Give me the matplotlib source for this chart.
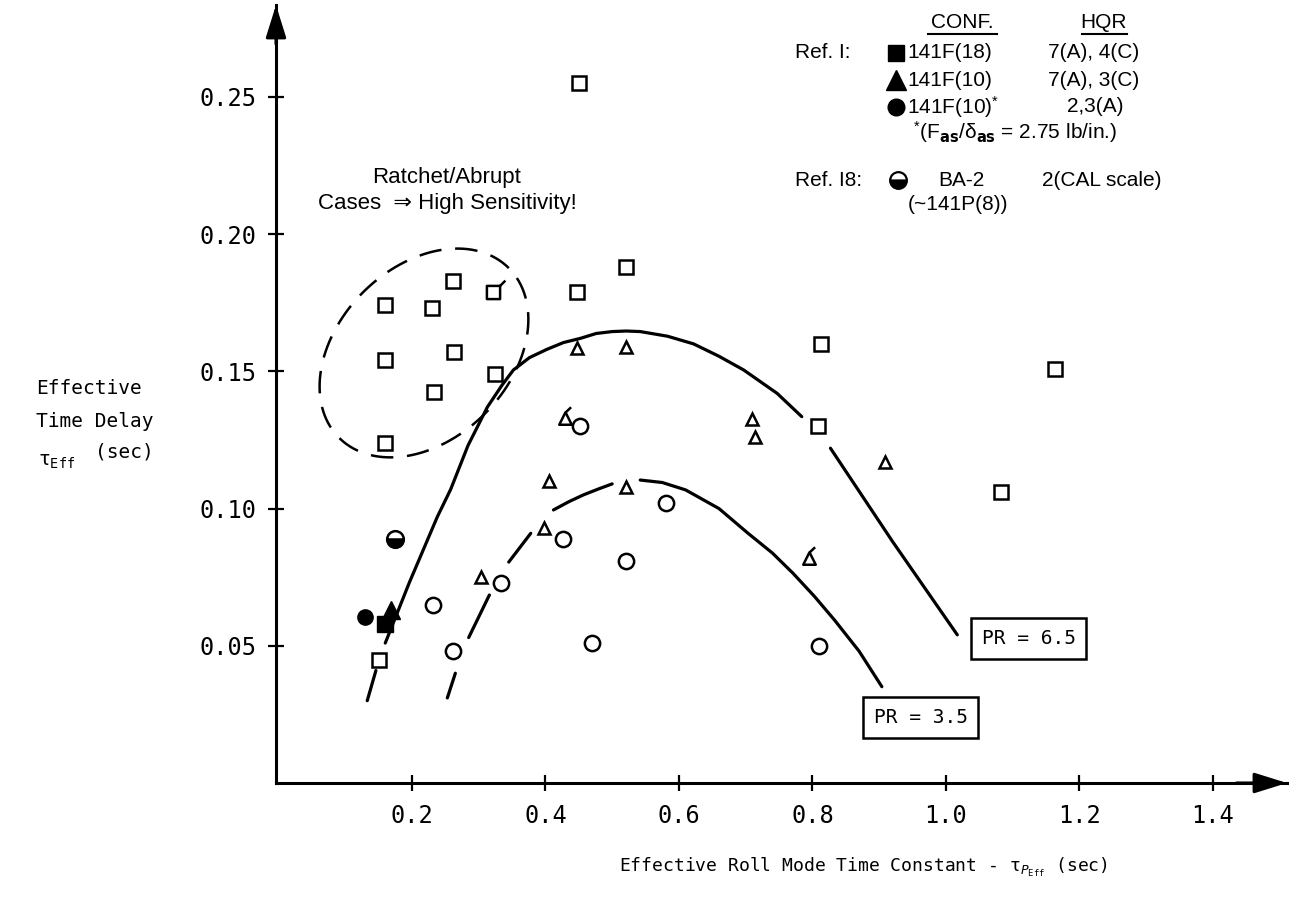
import matplotlib
matplotlib.use('Agg')
import matplotlib.pyplot as plt
import numpy as np
from matplotlib.path import Path
from matplotlib.lines import Line2D

# ---------------- data ----------------
sq_x = [0.151, 0.159, 0.160, 0.160, 0.230, 0.233, 0.262, 0.263, 0.325, 0.448, 0.450, 0.520, 0.809, 0.813, 1.082, 1.164]
sq_y = [0.045, 0.124, 0.154, 0.174, 0.173, 0.1425, 0.183, 0.157, 0.149, 0.179, 0.255, 0.188, 0.130, 0.160, 0.106, 0.151]
sq_flag_x = [0.322]
sq_flag_y = [0.179]

tri_x = [0.304, 0.398, 0.406, 0.448, 0.520, 0.520, 0.710, 0.714, 0.908]
tri_y = [0.075, 0.093, 0.110, 0.1585, 0.159, 0.108, 0.1325, 0.126, 0.117]
tri_flag_x = [0.430, 0.795]
tri_flag_y = [0.133, 0.082]

circ_x = [0.232, 0.262, 0.333, 0.427, 0.452, 0.469, 0.520, 0.581, 0.810]
circ_y = [0.065, 0.048, 0.073, 0.089, 0.130, 0.051, 0.081, 0.102, 0.050]

ref1_sq = (0.160, 0.058)
ref1_tri = (0.168, 0.063)
ref1_circ = (0.130, 0.0605)
ref18_half = (0.175, 0.089)

# faired curves (traced, NaN = break in the drawn line)
pr65_x = [0.133, 0.146, np.nan, 0.160, 0.178, 0.196, 0.217, 0.238, 0.258, 0.284, 0.313, 0.335, 0.352, 0.376, 0.402, 0.427, 0.452, 0.476, 0.500, 0.521, 0.542, 0.583, 0.622, 0.660, 0.697, 0.747, 0.784, np.nan, 0.827, 0.920, 1.017]
pr65_y = [0.030, 0.041, np.nan, 0.051, 0.062, 0.073, 0.085, 0.097, 0.107, 0.123, 0.137, 0.145, 0.1505, 0.155, 0.158, 0.1605, 0.162, 0.1638, 0.1645, 0.1647, 0.1645, 0.1628, 0.160, 0.1555, 0.1505, 0.142, 0.1335, np.nan, 0.122, 0.088, 0.054]
pr35_x = [0.253, 0.265, np.nan, 0.285, 0.316, np.nan, 0.345, 0.378, np.nan, 0.412, 0.435, 0.457, 0.480, 0.500, np.nan, 0.542, 0.575, 0.610, 0.660, 0.7035, 0.740, 0.771, 0.803, 0.833, 0.870, 0.904]
pr35_y = [0.031, 0.040, np.nan, 0.053, 0.0685, np.nan, 0.0805, 0.091, np.nan, 0.0995, 0.1025, 0.105, 0.1072, 0.109, np.nan, 0.1104, 0.1095, 0.1068, 0.100, 0.091, 0.0838, 0.0764, 0.068, 0.0594, 0.048, 0.0351]

x_ticks = [0.2, 0.4, 0.6, 0.8, 1.0, 1.2, 1.4]
x_ticklabels = ['0.2', '0.4', '0.6', '0.8', '1.0', '1.2', '1.4']
y_ticks = [0.05, 0.10, 0.15, 0.20, 0.25]
y_ticklabels = ['0.05', '0.10', '0.15', '0.20', '0.25']

# ---------------- figure ----------------
W, H = 1289, 910
plt.rcParams['mathtext.fontset'] = 'dejavusans'
plt.rcParams['mathtext.default'] = 'regular'
fig = plt.figure(figsize=(W / 100, H / 100), dpi=100)
ax = fig.add_axes([276 / W, 1 - 783 / H, (1287 - 276) / W, (783 - 5) / H])
ax.set_xlim(-0.0037, 1.511)
ax.set_ylim(0, 0.2835)
for s in ['top', 'right']:
    ax.spines[s].set_visible(False)
for s in ['left', 'bottom']:
    ax.spines[s].set_linewidth(2.2)
ax.patch.set_alpha(0)

mono = 'DejaVu Sans Mono'
sans = ['Liberation Sans', 'DejaVu Sans']

ax.set_xticks(x_ticks)
ax.set_xticklabels(x_ticklabels, fontfamily=mono, fontsize=17)
ax.set_yticks(y_ticks)
ax.set_yticklabels(y_ticklabels, fontfamily=mono, fontsize=17)
ax.tick_params(direction='inout', length=12, width=1.6)
ax.tick_params(axis='x', pad=9)
ax.tick_params(axis='y', pad=8)

# axis arrows
ax.annotate('', xy=(1.0, 0), xytext=(0.95, 0), xycoords='axes fraction',
            arrowprops=dict(arrowstyle='-|>,head_length=0.8,head_width=0.25', mutation_scale=25,
                            lw=2.2, color='k', shrinkA=0, shrinkB=0))
ax.annotate('', xy=(0, 1.0), xytext=(0, 0.95), xycoords='axes fraction',
            arrowprops=dict(arrowstyle='-|>,head_length=0.8,head_width=0.25', mutation_scale=25,
                            lw=2.2, color='k', shrinkA=0, shrinkB=0))

# curves
ax.plot(pr65_x, pr65_y, color='k', lw=2.3, solid_capstyle='round', solid_joinstyle='round', zorder=2)
ax.plot(pr35_x, pr35_y, color='k', lw=2.3, solid_capstyle='round', solid_joinstyle='round', zorder=2)

# dashed ellipse around ratchet/abrupt cases (built in pixel units)
sx = 667.5   # px per x unit
sy = 2744.0  # px per y unit
cx, cy = 0.2180, 0.1567
a_px, b_px, th = 120.0, 86.0, np.deg2rad(45)
t = np.linspace(0, 2 * np.pi, 400)
ex = cx + (a_px * np.cos(t) * np.cos(th) - b_px * np.sin(t) * np.sin(th)) / sx
ey = cy + (a_px * np.cos(t) * np.sin(th) + b_px * np.sin(t) * np.cos(th)) / sy
ax.plot(ex, ey, color='k', lw=1.8, linestyle=(0, (9, 5.5)), zorder=2)

# custom flagged markers
tri_flag = Path([(0, 1), (-1, -1), (1, -1), (0, 1), (0.05, 1.0), (0.9, 1.8)],
                [Path.MOVETO, Path.LINETO, Path.LINETO, Path.CLOSEPOLY, Path.MOVETO, Path.LINETO])
sq_flag = Path([(-1, -1), (1, -1), (1, 1), (-1, 1), (-1, -1), (1, 1), (1.8, 1.8)],
               [Path.MOVETO, Path.LINETO, Path.LINETO, Path.LINETO, Path.CLOSEPOLY, Path.MOVETO, Path.LINETO])

mk = dict(ls='none', mfc='white', mec='k', zorder=4)
ax.plot(sq_x, sq_y, marker='s', ms=9.5, mew=1.8, **mk)
ax.plot(sq_flag_x, sq_flag_y, marker=sq_flag, ms=9.5 * 1.8, mew=1.8, **mk)
ax.plot(tri_x, tri_y, marker='^', ms=9, mew=1.8, **mk)
ax.plot(tri_flag_x, tri_flag_y, marker=tri_flag, ms=9 * 1.8, mew=1.8, **mk)
ax.plot(circ_x, circ_y, marker='o', ms=11, mew=1.8, **mk)

ax.plot([ref1_circ[0]], [ref1_circ[1]], marker='o', ms=11, color='k', ls='none', zorder=5)
ax.plot([ref1_sq[0]], [ref1_sq[1]], marker='s', ms=11, color='k', ls='none', zorder=5)
ax.plot([ref1_tri[0]], [ref1_tri[1]], marker='^', ms=13, color='k', ls='none', zorder=5)
ax.plot([ref18_half[0]], [ref18_half[1]], marker='o', ms=12, mew=1.8, mec='k', mfc='k',
        fillstyle='bottom', markerfacecoloralt='white', ls='none', zorder=5)

# PR labels
box = dict(boxstyle='square,pad=0.55', fc='white', ec='k', lw=1.8)
ax.text(1.124, 0.0527, 'PR = 6.5', fontfamily=mono, fontsize=14, ha='center', va='center', bbox=box, zorder=6)
ax.text(0.962, 0.0239, 'PR = 3.5', fontfamily=mono, fontsize=14, ha='center', va='center', bbox=box, zorder=6)

# ---------------- figure-level text ----------------
def fx(px):
    return px / W

def fy(py):
    return 1 - py / H

# axis titles
fig.text(fx(863), fy(872), r'Effective Roll Mode Time Constant - $\tau_{\mathit{P}_{\mathtt{Eff}}}$ (sec)',
         fontfamily=mono, fontsize=13, ha='center', va='baseline')
fig.text(fx(36), fy(394), 'Effective', fontfamily=mono, fontsize=14, ha='left', va='baseline')
fig.text(fx(36), fy(427), 'Time Delay', fontfamily=mono, fontsize=14, ha='left', va='baseline')
fig.text(fx(38), fy(466), r'$\tau_{\mathtt{Eff}}$', fontfamily=mono, fontsize=14, ha='left', va='baseline')
fig.text(fx(154), fy(457), '(sec)', fontfamily=mono, fontsize=14, ha='right', va='baseline')

# annotation text
fig.text(fx(447), fy(177), 'Ratchet/Abrupt', fontfamily=sans, fontsize=16, ha='center', va='center')
fig.text(fx(318), fy(203), 'Cases  \u21d2 High Sensitivity!', fontfamily=sans, fontsize=16, ha='left', va='center')

# legend block
lfs = 15
fig.text(fx(962), fy(22), 'CONF.', fontfamily=sans, fontsize=lfs, ha='center', va='center')
fig.text(fx(1104), fy(22), 'HQR', fontfamily=sans, fontsize=lfs, ha='center', va='center')
fig.add_artist(Line2D([fx(928), fx(997)], [fy(34), fy(34)], color='k', lw=1.5))
fig.add_artist(Line2D([fx(1082), fx(1127)], [fy(34), fy(34)], color='k', lw=1.5))

rows = [
    (53, 's', '141F(18)', '7(A), 4(C)', 1048),
    (80, '^', '141F(10)', '7(A), 3(C)', 1048),
    (107, 'o', r'141F(10)$^{*}$', '2,3(A)', 1067),
]
fig.text(fx(795), fy(53), 'Ref. I:', fontfamily=sans, fontsize=lfs, ha='left', va='center')
for yy, m, conf, hqr, hx in rows:
    fig.add_artist(Line2D([fx(896)], [fy(yy)], marker=m, ms=12 if m != '^' else 14, color='k', ls='none'))
    fig.text(fx(907), fy(yy), conf, fontfamily=sans, fontsize=lfs, ha='left', va='center')
    fig.text(fx(hx), fy(yy), hqr, fontfamily=sans, fontsize=lfs, ha='left', va='center')
fig.text(fx(913), fy(132), '$^{*}$(F$_{\\mathbf{as}}$/\u03b4$_{\\mathbf{as}}$ = 2.75 lb/in.)',
         fontfamily=sans, fontsize=lfs, ha='left', va='center')
fig.text(fx(795), fy(180), 'Ref. I8:', fontfamily=sans, fontsize=lfs, ha='left', va='center')
fig.add_artist(Line2D([fx(898)], [fy(180)], marker='o', ms=12, mew=1.6, mec='k', mfc='k',
                      fillstyle='bottom', markerfacecoloralt='white', ls='none'))
fig.text(fx(938), fy(180), 'BA-2', fontfamily=sans, fontsize=lfs, ha='left', va='center')
fig.text(fx(1042), fy(180), '2(CAL scale)', fontfamily=sans, fontsize=lfs, ha='left', va='center')
fig.text(fx(908), fy(205), '(~141P(8))', fontfamily=sans, fontsize=lfs, ha='left', va='center')

fig.savefig('out.png', dpi=100)
